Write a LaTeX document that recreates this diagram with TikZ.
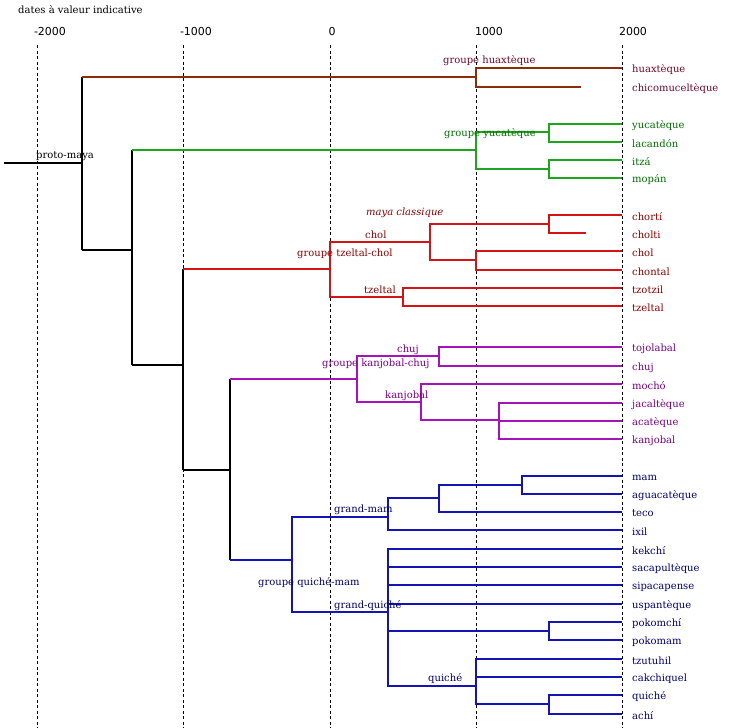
\documentclass[tikz,border=0pt]{standalone}
\usepackage{fontspec}
\setmainfont{DejaVu Serif}
\newfontfamily\tickfont{DejaVu Sans}
\definecolor{cbrown}{RGB}{140,45,10}
\definecolor{tbrown}{RGB}{110,10,40}
\definecolor{cgreen}{RGB}{30,165,30}
\definecolor{tgreen}{RGB}{0,110,0}
\definecolor{cred}{RGB}{210,20,20}
\definecolor{tred}{RGB}{140,0,0}
\definecolor{cpurple}{RGB}{165,20,185}
\definecolor{tpurple}{RGB}{120,0,130}
\definecolor{cblue}{RGB}{20,20,180}
\definecolor{tblue}{RGB}{0,0,110}
\tikzset{
  grid/.style={black,line width=0.9pt,dash pattern=on 3pt off 2.5pt},
  edge/.style={line width=2pt,line join=miter},
  leaf/.style={anchor=west,inner sep=0pt,yshift=-1.5pt,font=\fontsize{10}{11}\selectfont},
  grp/.style={anchor=west,inner sep=0pt,yshift=-1.5pt,font=\fontsize{10}{11}\selectfont},
  tick/.style={inner sep=0pt,font=\tickfont\fontsize{11}{12}\selectfont},
}
\begin{document}
\begin{tikzpicture}[x=1pt,y=-1pt]
\useasboundingbox[fill=white] (0,0) rectangle (750,728);
% axis
\node[anchor=west,inner sep=0pt,yshift=-1pt,font=\fontsize{10}{11}\selectfont] (title) at (18,9) {dates à valeur indicative};
\foreach \x/\l/\c/\n in {37/-2000/50/a,183/-1000/196/b,330/0/332/c,476/1000/489/d,622/2000/633/e}{
  \node[tick] (t\n) at (\c,31) {\l};
  \draw[grid] (\x,45) -- (\x,728);
}
% coordinates
\coordinate (start) at (4,163);
\coordinate (root) at (82,163);
\coordinate (huax) at (476,77);
\coordinate (n1) at (132,250);
\coordinate (yucG) at (476,150);
\coordinate (yl) at (549,132);
\coordinate (im) at (549,169);
\coordinate (n2) at (183,365);
\coordinate (tzc) at (330,269);
\coordinate (mc) at (430,242);
\coordinate (cc) at (549,224);
\coordinate (chch) at (476,260);
\coordinate (tz) at (403,297);
\coordinate (n3) at (230,470);
\coordinate (kc) at (357,379);
\coordinate (chujG) at (439,356);
\coordinate (kanG) at (421,402);
\coordinate (jaG) at (499,420);
\coordinate (qm) at (292,560);
\coordinate (gm) at (388,517);
\coordinate (mg) at (439,498);
\coordinate (mamg) at (522,485);
\coordinate (gq) at (388,612);
\coordinate (pk) at (549,631);
\coordinate (qg) at (476,686);
\coordinate (qa) at (549,704);
% leaf ends
\foreach \n/\x/\y in {hua/622/68,chic/581/87,yuc/622/124,lac/622/142,itz/622/160,mop/622/178,
 chorti/622/215,cholti/586/233,chol/622/251,chon/622/270,tzo/622/288,tze/622/306,
 toj/622/347,chuj/622/366,moc/622/384,jac/622/403,aca/622/421,kan/622/439,
 mam/622/476,agu/622/494,tec/622/512,ixi/622/530,kek/622/549,sac/622/567,sip/622/585,usp/622/604,
 pkc/622/622,pkm/622/640,tzu/622/659,cak/622/677,qui/622/695,ach/622/714}{
  \coordinate (e\n) at (\x,\y);
}
% black trunk
\draw[edge,black] (start) -- (root);
\draw[edge,black] (root |- huax) -- (root |- n1);
\draw[edge,black] (root |- n1) -- (n1);
\draw[edge,black] (n1 |- yucG) -- (n1 |- n2);
\draw[edge,black] (n1 |- n2) -- (n2);
\draw[edge,black] (n2 |- tzc) -- (n2 |- n3);
\draw[edge,black] (n2 |- n3) -- (n3);
\draw[edge,black] (n3 |- kc) -- (n3 |- qm);
% group stems
\draw[edge,cbrown] (root |- huax) -- (huax);
\draw[edge,cgreen] (n1 |- yucG) -- (yucG);
\draw[edge,cred] (n2 |- tzc) -- (tzc);
\draw[edge,cpurple] (n3 |- kc) -- (kc);
\draw[edge,cblue] (n3 |- qm) -- (qm);
% brown
\begin{scope}[edge,cbrown]
\draw (huax) |- (ehua); \draw (huax) |- (echic);
\end{scope}
% green
\begin{scope}[edge,cgreen]
\draw (yucG) |- (yl); \draw (yucG) |- (im);
\draw (yl) |- (eyuc); \draw (yl) |- (elac);
\draw (im) |- (eitz); \draw (im) |- (emop);
\end{scope}
% red
\begin{scope}[edge,cred]
\draw (tzc) |- (mc); \draw (tzc) |- (tz);
\draw (mc) |- (cc); \draw (mc) |- (chch);
\draw (cc) |- (echorti); \draw (cc) |- (echolti);
\draw (chch) |- (echol); \draw (chch) |- (echon);
\draw (tz) |- (etzo); \draw (tz) |- (etze);
\end{scope}
% purple
\begin{scope}[edge,cpurple]
\draw (kc) |- (chujG); \draw (kc) |- (kanG);
\draw (chujG) |- (etoj); \draw (chujG) |- (echuj);
\draw (kanG) |- (emoc); \draw (kanG) |- (jaG);
\draw (jaG) |- (ejac); \draw (jaG) |- (eaca); \draw (jaG) |- (ekan);
\end{scope}
% blue
\begin{scope}[edge,cblue]
\draw (qm) |- (gm); \draw (qm) |- (gq);
\draw (gm) |- (mg); \draw (gm) |- (eixi);
\draw (mg) |- (mamg); \draw (mg) |- (etec);
\draw (mamg) |- (emam); \draw (mamg) |- (eagu);
\draw (gq) |- (ekek); \draw (gq) |- (esac); \draw (gq) |- (esip); \draw (gq) |- (eusp);
\draw (gq) |- (pk); \draw (gq) |- (qg);
\draw (pk) |- (epkc); \draw (pk) |- (epkm);
\draw (qg) |- (etzu); \draw (qg) |- (ecak); \draw (qg) |- (qa);
\draw (qa) |- (equi); \draw (qa) |- (each);
\end{scope}
% leaf labels
\foreach \n/\y/\t/\c in {hua/68/huaxtèque/tbrown,chic/87/chicomuceltèque/tbrown,
 yuc/124/yucatèque/tgreen,lac/142/lacandón/tgreen,itz/160/itzá/tgreen,mop/178/mopán/tgreen,
 chorti/215/chortí/tred,cholti/233/cholti/tred,chol/251/chol/tred,chon/270/chontal/tred,tzo/288/tzotzil/tred,tze/306/tzeltal/tred,
 toj/347/tojolabal/tpurple,chuj/366/chuj/tpurple,moc/384/mochó/tpurple,jac/403/jacaltèque/tpurple,aca/421/acatèque/tpurple,kan/439/kanjobal/tpurple,
 mam/476/mam/tblue,agu/494/aguacatèque/tblue,tec/512/teco/tblue,ixi/530/ixil/tblue,kek/549/kekchí/tblue,sac/567/sacapultèque/tblue,sip/585/sipacapense/tblue,usp/604/uspantèque/tblue,
 pkc/622/pokomchí/tblue,pkm/640/pokomam/tblue,tzu/659/tzutuhil/tblue,cak/677/cakchiquel/tblue,qui/695/quiché/tblue,ach/714/achí/tblue}{
  \node[leaf,text=\c] (l\n) at (632,\y) {\t};
}
% group labels
\node[grp,black] (gproto) at (36,155) {proto-maya};
\node[grp,text=tbrown] (ghuax) at (443,59) {groupe huaxtèque};
\node[grp,text=tgreen] (gyuc) at (444,132) {groupe yucatèque};
\node[grp,text=tred,font=\itshape\fontsize{10}{11}\selectfont] (gmc) at (366,211) {maya classique};
\node[grp,text=tred] (gchol) at (365,233) {chol};
\node[grp,text=tred] (gtzc) at (297,252) {groupe tzeltal-chol};
\node[grp,text=tred] (gtze) at (364,288) {tzeltal};
\node[grp,text=tpurple] (gchuj) at (397,348) {chuj};
\node[grp,text=tpurple] (gkc) at (322,362) {groupe kanjobal-chuj};
\node[grp,text=tpurple] (gkan) at (385,394) {kanjobal};
\node[grp,text=tblue] (ggm) at (334,508) {grand-mam};
\node[grp,text=tblue] (gqm) at (258,581) {groupe quiché-mam};
\node[grp,text=tblue] (ggq) at (334,604) {grand-quiché};
\node[grp,text=tblue] (gqui) at (428,677) {quiché};
\end{tikzpicture}
\end{document}
